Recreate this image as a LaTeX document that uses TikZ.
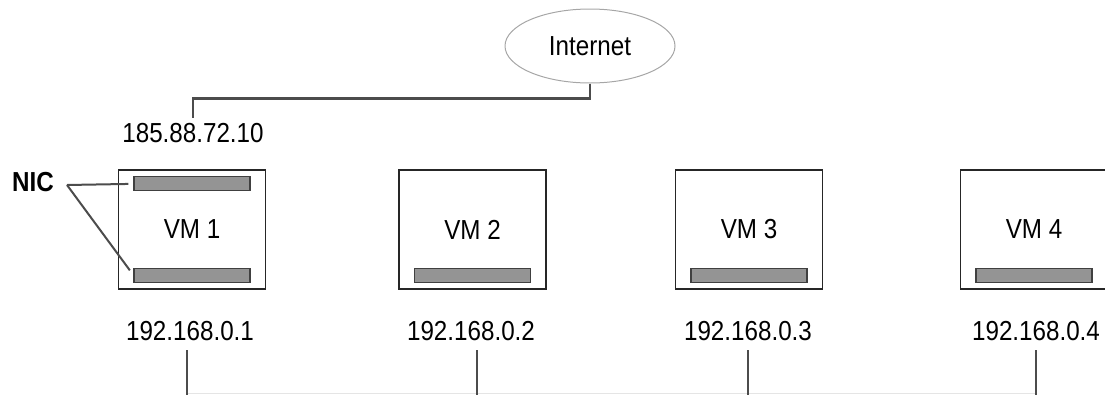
\documentclass[tikz,border=0pt]{standalone}
\usepackage{fontspec}
\setmainfont{Liberation Sans}[FakeStretch=0.88]
\usetikzlibrary{shapes.geometric,positioning}

\begin{document}
\begin{tikzpicture}[x=1pt,y=-1pt,font=\fontsize{27.5}{32}\selectfont,
  vm/.style={rectangle,draw=black!85,line width=1.5pt,minimum width=147pt,minimum height=119pt},
  nic/.style={rectangle,draw=black!75,fill=black!42,line width=1.2pt,minimum width=116pt,minimum height=14pt,inner sep=0pt},
  link/.style={draw=black!70,line width=2.6pt}]
\useasboundingbox (0,0) rectangle (1105,394);
\node [ellipse,draw=black!35,line width=1pt,minimum width=170pt,minimum height=74pt] (inet) at (590,46) {Internet};
\node (pub) at (193,133) {185.88.72.10};
\node (niclbl) at (33,182) {\bfseries NIC};
\coordinate (fork) at (67,185);

\node [vm] (vm1) at (192,229.5) {VM 1};
\node [vm] (vm2) at (472.5,229.5) {VM 2};
\node [vm] (vm3) at (749,229.5) {VM 3};
\node [vm] (vm4) at (1034,229.5) {VM 4};

\node [nic,below=7pt of vm1.north] (nic1a) {};
\node [nic,above=7pt of vm1.south] (nic1b) {};
\node [nic,above=7pt of vm2.south] (nic2) {};
\node [nic,above=7pt of vm3.south] (nic3) {};
\node [nic,above=7pt of vm4.south] (nic4) {};

\node (ip1) at (190,331) {192.168.0.1};
\node (ip2) at (471,331) {192.168.0.2};
\node (ip3) at (748,331) {192.168.0.3};
\node (ip4) at (1036,331) {192.168.0.4};

\draw [link] (inet.south) -- ++(0,15) -| ([yshift=2pt]pub.north);
\draw [link,line width=2pt,shorten >=5pt] (fork) -- (nic1a.west);
\draw [link,line width=2pt,shorten >=6pt] (fork) -- (nic1b.west);

\draw [black!10,line width=1pt] ([xshift=-3pt]ip1.south |- 0,393) -- (ip4.south |- 0,393);
\draw [link,shorten <=6pt] ([xshift=-3pt]ip1.south) -- ([xshift=-3pt]ip1.south |- 0,396);
\draw [link,shorten <=6pt] ([xshift=6pt]ip2.south) -- ([xshift=6pt]ip2.south |- 0,396);
\draw [link,shorten <=6pt] (ip3.south) -- (ip3.south |- 0,396);
\draw [link,shorten <=6pt] (ip4.south) -- (ip4.south |- 0,396);
\end{tikzpicture}
\end{document}
